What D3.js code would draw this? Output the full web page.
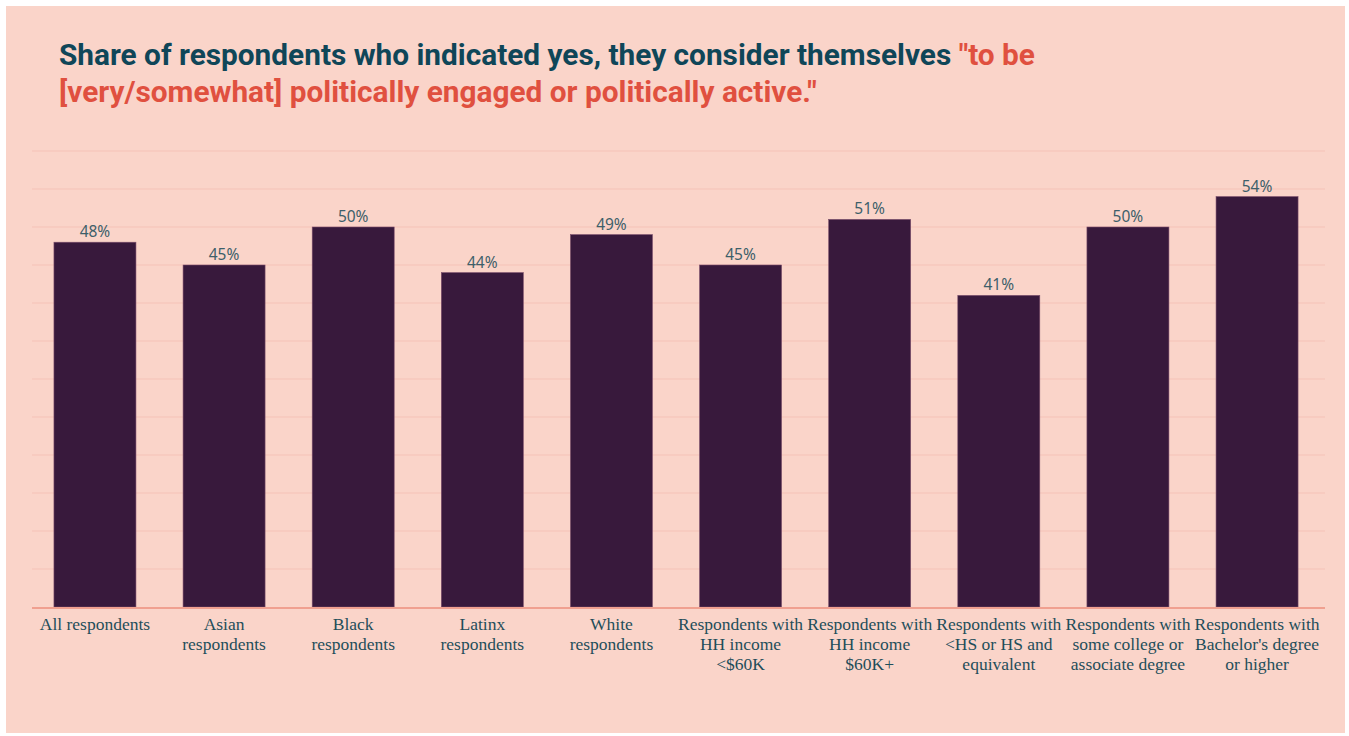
<!DOCTYPE html>
<html>
<head>
<meta charset="utf-8">
<script src="https://cdn.jsdelivr.net/npm/d3@7"></script>
<style>
  html, body { margin: 0; padding: 0; background: #ffffff; }
  svg { display: block; }
</style>
</head>
<body>
<svg id="chart" width="1349" height="736"></svg>
<script>
// Survey groups and the share who call themselves politically engaged/active
const categories = [
  ["All respondents"],
  ["Asian", "respondents"],
  ["Black", "respondents"],
  ["Latinx", "respondents"],
  ["White", "respondents"],
  ["Respondents with", "HH income", "<$60K"],
  ["Respondents with", "HH income", "$60K+"],
  ["Respondents with", "<HS or HS and", "equivalent"],
  ["Respondents with", "some college or", "associate degree"],
  ["Respondents with", "Bachelor's degree", "or higher"]
];
const values = [48, 45, 50, 44, 49, 45, 51, 41, 50, 54];
const gridTicks = [0, 5, 10, 15, 20, 25, 30, 35, 40, 45, 50, 55, 60];

const svg = d3.select("#chart");

// Peach panel
svg.append("rect")
  .attr("x", 6).attr("y", 6)
  .attr("width", 1339).attr("height", 727)
  .attr("fill", "#fad4c9");

// Title, two lines with a highlighted quote
const title = svg.append("text")
  .attr("font-family", "Roboto, sans-serif")
  .attr("font-weight", 700)
  .attr("font-size", 29.8);
const l1 = title.append("tspan").attr("x", 59).attr("y", 65);
l1.append("tspan").attr("fill", "#0f4658")
  .text("Share of respondents who indicated yes, they consider themselves ");
l1.append("tspan").attr("fill", "#e0503f").text("\"to be");
title.append("tspan").attr("x", 59).attr("y", 102)
  .attr("fill", "#e0503f")
  .text("[very/somewhat] politically engaged or politically active.\"");

// Scales
const x = d3.scaleBand()
  .domain(d3.range(categories.length))
  .range([32, 1320])
  .paddingInner(0.365)
  .paddingOuter(0.17);

const y = d3.scaleLinear().domain([0, 60]).range([607, 151]);

// Horizontal gridlines
svg.append("g")
  .selectAll("line")
  .data(gridTicks.slice(1))
  .join("line")
  .attr("x1", 32).attr("x2", 1325)
  .attr("y1", d => y(d)).attr("y2", d => y(d))
  .attr("stroke", "#f5c2b7")
  .attr("stroke-width", 1);

// Bars
svg.append("g")
  .selectAll("rect")
  .data(values)
  .join("rect")
  .attr("x", (d, i) => x(i))
  .attr("y", d => y(d))
  .attr("width", x.bandwidth())
  .attr("height", d => y(0) - y(d))
  .attr("fill", "#38193c")
  .attr("stroke", "#7a4d6a")
  .attr("stroke-width", 0.6);

// Baseline
svg.append("line")
  .attr("x1", 32).attr("x2", 1325)
  .attr("y1", y(0) + 1).attr("y2", y(0) + 1)
  .attr("stroke", "#f0a090")
  .attr("stroke-width", 2);

// Value labels
svg.append("g")
  .selectAll("text")
  .data(values)
  .join("text")
  .attr("x", (d, i) => x(i) + x.bandwidth() / 2)
  .attr("y", d => y(d) - 5)
  .attr("text-anchor", "middle")
  .attr("font-family", "'Noto Sans', sans-serif")
  .attr("font-size", 15.5)
  .attr("fill", "#3d5f6a")
  .text(d => d + "%");

// Category labels
const labels = svg.append("g")
  .selectAll("text")
  .data(categories)
  .join("text")
  .attr("text-anchor", "middle")
  .attr("font-family", "'Liberation Serif', 'Times New Roman', serif")
  .attr("font-size", 17.5)
  .attr("fill", "#1f4e5a");
labels.each(function (lines, i) {
  d3.select(this).selectAll("tspan")
    .data(lines)
    .join("tspan")
    .attr("x", x(i) + x.bandwidth() / 2)
    .attr("y", (d, j) => 630 + j * 20)
    .text(d => d);
});
</script>
</body>
</html>
